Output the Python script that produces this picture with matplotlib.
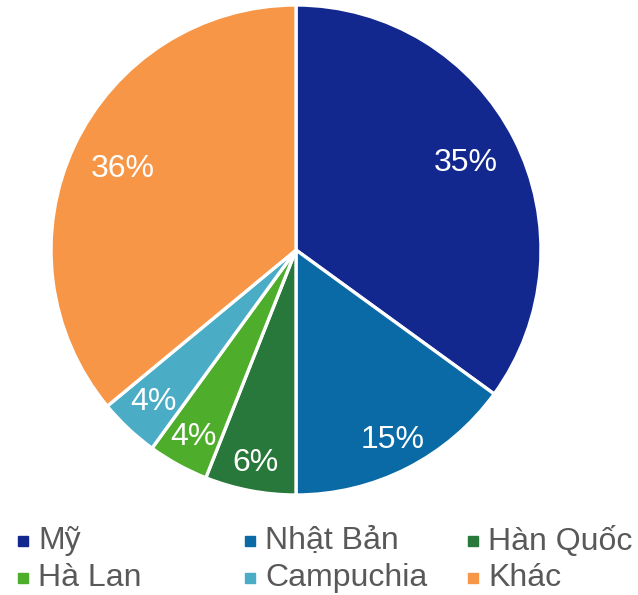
import matplotlib
matplotlib.use("Agg")
import matplotlib.pyplot as plt
from matplotlib.patches import Rectangle
import numpy as np

plt.rcParams['font.family'] = ['Liberation Sans', 'DejaVu Sans']

# share by country (%)
countries = ['Mỹ', 'Nhật Bản', 'Hàn Quốc', 'Hà Lan', 'Campuchia', 'Khác']
shares = [35, 15, 6, 4, 4, 36]
colors = ['#13288F', '#0A6AA6', '#27783A', '#4EAE2B', '#4BACC6', '#F79646']
# how far out each percent label sits (fraction of radius)
label_r = [0.78, 0.87, 0.885, 0.87, 0.85, 0.78]

fig = plt.figure(figsize=(6.38, 5.95), dpi=100)
ax = fig.add_axes([51 / 638, 100 / 595, 490 / 638, 490 / 595])

wedges, texts, autotexts = ax.pie(
    shares, colors=colors, startangle=90, counterclock=False,
    autopct='%1.0f%%', pctdistance=0.78,
    wedgeprops=dict(edgecolor='white', linewidth=2.4),
    textprops=dict(color='white', fontsize=23))

# nudge labels of the smaller slices outward, like the original
for w, t, r in zip(wedges, autotexts, label_r):
    ang = np.deg2rad((w.theta1 + w.theta2) / 2)
    t.set_position((r * np.cos(ang), r * np.sin(ang)))

ax.set_xlim(-1.0, 1.0)
ax.set_ylim(-1.0, 1.0)
ax.set_aspect('equal')
ax.axis('off')

# legend, 3 columns x 2 rows
col_x = [18, 245, 468]
row_y = [541, 578]
for i, (name, c) in enumerate(zip(countries, colors)):
    x = col_x[i % 3]
    y = row_y[i // 3]
    fig.patches.append(Rectangle((x / 638, 1 - (y + 5) / 595), 10 / 638, 10 / 595,
                                 transform=fig.transFigure, color=c))
    fig.text((x + 20) / 638, 1 - y / 595, name, fontsize=23, color='#595959',
             va='center', ha='left')

fig.savefig('out.png', dpi=100)
